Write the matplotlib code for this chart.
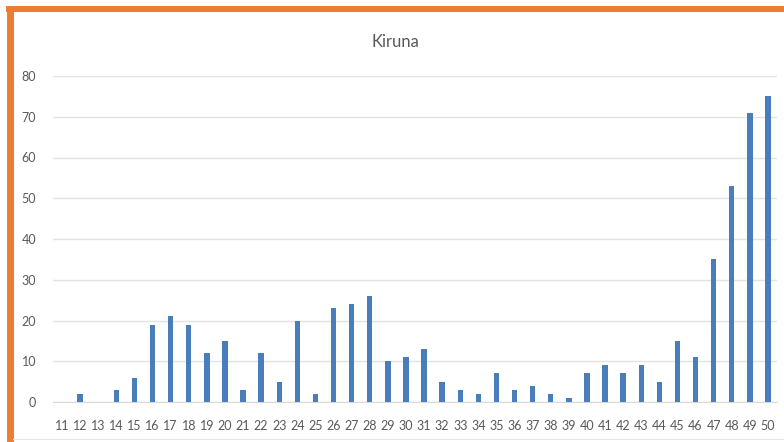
import matplotlib
matplotlib.use("Agg")
import matplotlib.pyplot as plt
from matplotlib.lines import Line2D

weeks = [str(w) for w in range(11, 51)]
cases = [0, 2, 0, 3, 6, 19, 21, 19, 12, 15, 3, 12, 5, 20, 2, 23, 24, 26, 10, 11,
         13, 5, 3, 2, 7, 3, 4, 2, 1, 7, 9, 7, 9, 5, 15, 11, 35, 53, 71, 75]
yticks = [0, 10, 20, 30, 40, 50, 60, 70, 80]
title = "Kiruna"

plt.rcParams['font.family'] = ['Lato', 'DejaVu Sans']
W, H = 784, 442
fig = plt.figure(figsize=(W/100, H/100), dpi=100)
ax = fig.add_axes([53/W, 40/H, (777-53)/W, (402-76)/H])

x = list(range(len(weeks)))
ax.bar(x, cases, width=0.3, color='#4a7ebb', zorder=3)
ax.set_xlim(-0.5, len(weeks)-0.5)
ax.set_ylim(0, 80)
ax.set_yticks(yticks)
ax.set_xticks(x)
ax.set_xticklabels(weeks)
ax.grid(axis='y', color='#e3e3e3', lw=1, zorder=0)
for s in ax.spines.values():
    s.set_visible(False)
ax.spines['bottom'].set_visible(True)
ax.spines['bottom'].set_color('#d9d9d9')
ax.tick_params(axis='both', length=0, colors='#595959', labelsize=9)
ax.tick_params(axis='y', pad=12)
ax.tick_params(axis='x', pad=13)
fig.text(395/W, 1-42/H, title, ha='center', va='center', fontsize=12, color='#595959')

# outer frame
fig.add_artist(Line2D([9.5/W, 9.5/W], [0, 1-6/H], transform=fig.transFigure,
                      color='#ed7d31', lw=5.0, solid_capstyle='butt'))
fig.add_artist(Line2D([6/W, 1], [1-9/H, 1-9/H], transform=fig.transFigure,
                      color='#ed7d31', lw=4.3, solid_capstyle='butt'))
fig.add_artist(Line2D([13/W, 1], [1-439/H, 1-439/H], transform=fig.transFigure,
                      color='#e6e6e6', lw=0.8))

fig.savefig("out.png", dpi=100)
